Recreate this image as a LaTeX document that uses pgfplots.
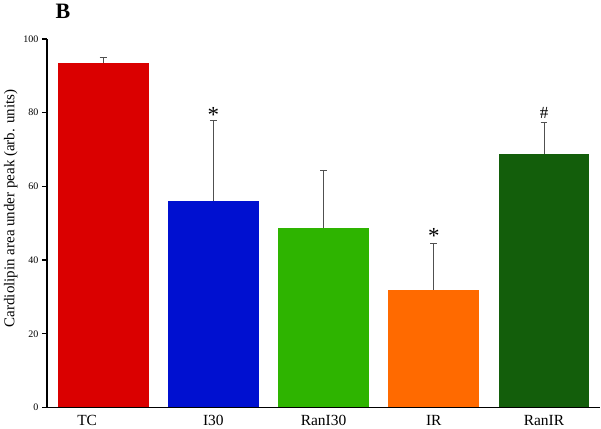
\documentclass[border=0pt]{standalone}
\usepackage{pgfplots}
\pgfplotsset{compat=1.18}
\usepackage{fontspec}
\setmainfont{Liberation Serif}
\definecolor{cTC}{RGB}{218,0,0}
\definecolor{cIth}{RGB}{0,16,208}
\definecolor{cRanI}{RGB}{46,180,0}
\definecolor{cIR}{RGB}{255,106,0}
\definecolor{cRanIR}{RGB}{19,94,11}
\definecolor{errc}{RGB}{80,80,80}
\begin{document}
\begin{tikzpicture}
\begin{axis}[
  scale only axis,
  width=554pt, height=369pt,
  xmin=-0.51, xmax=4.51, ymin=0, ymax=100,
  axis x line*=bottom, axis y line*=left,
  axis line style={line width=1.6pt, -},
  ytick={0,20,40,60,80,100},
  yticklabel style={font=\fontsize{10}{11}\selectfont, xshift=0pt},
  /pgf/number format/assume math mode=true,
  tick style={black, line width=1.2pt},
  tick align=outside, major tick length=5pt,
  xtick={0,1,2,3,4}, xticklabels={TC\hspace*{32pt},I30,RanI30,IR,RanIR},
  xtick style={draw=none},
  xticklabel style={font=\fontsize{15.5}{17}\selectfont, yshift=1pt},
  ylabel={Cardiolipin area under peak (arb. units)},
  ylabel style={font=\fontsize{15}{16}\selectfont, at={(ticklabel cs:0.54)}, yshift=-1pt},
  ybar, bar width=0.825, bar shift=0pt,
  error bars/y dir=plus, error bars/y explicit,
  error bars/error bar style={errc, line width=1pt},
  error bars/error mark options={rotate=90, mark size=3.5pt, line width=1pt, errc},
  clip=false,
]
\addplot[fill=cTC, draw=none] coordinates {(0,93.5) +- (0,1.6)};
\addplot[fill=cIth, draw=none] coordinates {(1,56.1) +- (0,21.9)};
\addplot[fill=cRanI, draw=none] coordinates {(2,48.8) +- (0,15.4)};
\addplot[fill=cIR, draw=none] coordinates {(3,32.0) +- (0,12.4)};
\addplot[fill=cRanIR, draw=none] coordinates {(4,68.8) +- (0,8.4)};
\node[font=\fontsize{23}{24}\selectfont] at (axis cs:1,79.3) {*};
\node[font=\fontsize{23}{24}\selectfont] at (axis cs:3,46.4) {*};
\node[font=\fontsize{17}{18}\selectfont] at (axis cs:4,80.0) {\#};
\node[font=\bfseries\fontsize{22}{24}\selectfont] at ([xshift=16pt, yshift=28pt]current axis.north west) {B};
\end{axis}
\path ([xshift=-47pt,yshift=-18pt]current axis.south west) rectangle ([yshift=39pt]current axis.north east);
\end{tikzpicture}
\end{document}
